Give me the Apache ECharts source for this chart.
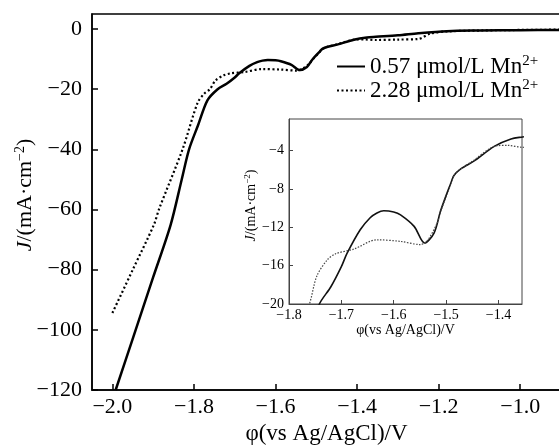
<!DOCTYPE html>
<html>
<head>
<meta charset="utf-8">
<script src="https://cdn.jsdelivr.net/npm/echarts@6/dist/echarts.min.js"></script>
<style>
  html, body { margin: 0; padding: 0; background: #fff; }
  #chart { width: 559px; height: 448px; }
</style>
</head>
<body>
<div id="chart"></div>
<script>
  // 0.57 umol/L Mn2+ (solid)
  var solidX = [-1.992, -1.95, -1.90, -1.857, -1.83, -1.812, -1.79, -1.767, -1.742, -1.72, -1.70, -1.689, -1.664, -1.645, -1.632, -1.619, -1.60, -1.587, -1.561, -1.541, -1.523, -1.510, -1.491, -1.485, -1.472, -1.447, -1.408, -1.376, -1.354, -1.30, -1.25, -1.18, -1.10, -1.0, -0.9]
  var solidJ = [-120, -102.9, -82.5, -65, -50, -40, -32, -23.7, -20, -18.2, -16.1, -14.7, -12.25, -11.0, -10.5, -10.27, -10.4, -10.7, -11.9, -13.64, -12.6, -10.2, -7.4, -6.6, -5.9, -5.1, -3.55, -2.78, -2.57, -2.1, -1.4, -0.7, -0.5, -0.4, -0.3]
  // 2.28 umol/L Mn2+ (dotted)
  var dotX = [-2.0, -1.95, -1.898, -1.886, -1.828, -1.791, -1.775, -1.761, -1.747, -1.727, -1.711, -1.676, -1.632, -1.587, -1.549, -1.536, -1.517, -1.510, -1.491, -1.485, -1.472, -1.447, -1.42, -1.402, -1.383, -1.354, -1.30, -1.25, -1.22, -1.18, -1.10, -1.0, -0.9]
  var dotJ = [-94.4, -80, -65, -60, -40, -24.5, -21.5, -20, -17.1, -15.4, -14.76, -14.27, -13.3, -13.47, -13.8, -13.4, -11.55, -10.3, -7.5, -6.6, -5.9, -5.0, -3.9, -3.48, -3.45, -3.65, -3.5, -3.3, -1.5, -0.8, -0.5, -0.3, -0.2]

  var mainXTicks = [-2.0, -1.8, -1.6, -1.4, -1.2, -1.0]
  var mainYTicks = [0, -20, -40, -60, -80, -100, -120]
  var insetXTicks = [-1.8, -1.7, -1.6, -1.5, -1.4]
  var insetYTicks = [-4, -8, -12, -16, -20]
  var seriesNames = ['0.57 μmol/L Mn', '2.28 μmol/L Mn']

  function pairs(xs, ys) {
    return xs.map(function (x, i) { return [x, ys[i]] })
  }
  function minus(v, digits) {
    var s = digits != null ? v.toFixed(digits) : String(v)
    return s.replace('-', '\u2212')
  }

  var FONT = "'Liberation Serif', 'Times New Roman', serif"
  var myChart = echarts.init(document.getElementById('chart'))

  var option = {
    animation: false,
    textStyle: { fontFamily: FONT, color: '#000' },
    legend: {
      orient: 'vertical',
      left: 331,
      top: 49,
      itemWidth: 28,
      itemHeight: 10,
      itemGap: 0,
      data: seriesNames,
      itemStyle: { opacity: 0 },
      formatter: function (name) { return '{t|' + name + '}{s|2+}' },
      textStyle: {
        fontFamily: FONT,
        color: '#000',
        rich: {
          t: { fontSize: 23, fontFamily: FONT, lineHeight: 22 },
          s: { fontSize: 15, fontFamily: FONT, padding: [0, 0, 10, 0] }
        }
      }
    },
    grid: [
      { left: 92, top: 14, right: -2, bottom: 58, outerBoundsMode: 'none', show: true, borderColor: '#000', borderWidth: 1.5 },
      { left: 289, top: 119, width: 233, height: 185, outerBoundsMode: 'none', show: true, borderColor: '#444', borderWidth: 1, backgroundColor: '#fff', z: 5 }
    ],
    xAxis: [{
      gridIndex: 0,
      type: 'value',
      min: -2.05,
      max: -0.9,
      splitLine: { show: false },
      axisLine: { onZero: false, lineStyle: { color: '#000', width: 1.5 } },
      axisTick: { inside: true, length: 6, customValues: mainXTicks, lineStyle: { color: '#000', width: 1.5 } },
      axisLabel: { customValues: mainXTicks, fontSize: 22, color: '#000', fontFamily: FONT, margin: 6,
        formatter: function (v) { return minus(v, 1) } },
      name: 'φ(vs Ag/AgCl)/V',
      nameLocation: 'middle',
      nameGap: 18,
      nameTextStyle: { fontSize: 23, fontFamily: FONT, color: '#000' }
    }, {
      gridIndex: 1,
      type: 'value',
      min: -1.8,
      max: -1.355,
      splitLine: { show: false },
      axisLine: { onZero: false, lineStyle: { color: '#444', width: 1 } },
      axisTick: { inside: true, length: 4, customValues: insetXTicks, lineStyle: { color: '#444' } },
      axisLabel: { customValues: insetXTicks, fontSize: 14, color: '#000', fontFamily: FONT, margin: 4,
        formatter: function (v) { return minus(v, 1) } },
      name: 'φ(vs Ag/AgCl)/V',
      nameLocation: 'middle',
      nameGap: 19,
      nameTextStyle: { fontSize: 14, fontFamily: FONT, color: '#000' },
      z: 6
    }],
    yAxis: [{
      gridIndex: 0,
      type: 'value',
      min: -120,
      max: 5,
      splitLine: { show: false },
      axisLine: { onZero: false, lineStyle: { color: '#000', width: 1.5 } },
      axisTick: { inside: true, length: 6, customValues: mainYTicks, lineStyle: { color: '#000', width: 1.5 } },
      axisLabel: { customValues: mainYTicks, fontSize: 22, color: '#000', fontFamily: FONT, margin: 10,
        formatter: function (v) { return minus(v) } },
      name: '{i|J}/(mA·cm{s|\u22122})',
      nameLocation: 'middle',
      nameMoveOverlap: false,
      nameGap: 55,
      nameTextStyle: {
        fontSize: 22, fontFamily: FONT, color: '#000',
        padding: [0, 0, 0, 14],
        rich: {
          i: { fontSize: 22, fontFamily: FONT, fontStyle: 'italic' },
          s: { fontSize: 14, fontFamily: FONT, padding: [0, 0, 10, 0] }
        }
      }
    }, {
      gridIndex: 1,
      type: 'value',
      min: -20,
      max: -0.7,
      splitLine: { show: false },
      axisLine: { onZero: false, lineStyle: { color: '#444', width: 1 } },
      axisTick: { inside: true, length: 4, customValues: insetYTicks, lineStyle: { color: '#444' } },
      axisLabel: { customValues: insetYTicks, fontSize: 14, color: '#000', fontFamily: FONT, margin: 5,
        formatter: function (v) { return minus(v) } },
      name: '{i|J}/(mA·cm{s|\u22122})',
      nameLocation: 'middle',
      nameGap: 30,
      nameTextStyle: {
        fontSize: 14, fontFamily: FONT, color: '#000',
        padding: [0, 0, 0, 12],
        rich: {
          i: { fontSize: 14, fontFamily: FONT, fontStyle: 'italic' },
          s: { fontSize: 9, fontFamily: FONT, padding: [0, 0, 7, 0] }
        }
      },
      z: 6
    }],
    series: [{
      name: seriesNames[0],
      type: 'line',
      xAxisIndex: 0, yAxisIndex: 0,
      showSymbol: false, symbol: 'none',
      smooth: 0.3,
      itemStyle: { color: '#000' },
      lineStyle: { color: '#000', width: 2.5, type: 'solid' },
      data: pairs(solidX, solidJ)
    }, {
      name: seriesNames[1],
      type: 'line',
      xAxisIndex: 0, yAxisIndex: 0,
      showSymbol: false, symbol: 'none',
      smooth: 0.3,
      itemStyle: { color: '#000' },
      lineStyle: { color: '#000', width: 2.2, type: [2, 2.5] },
      data: pairs(dotX, dotJ)
    }, {
      name: 'inset-solid',
      type: 'line',
      xAxisIndex: 1, yAxisIndex: 1,
      showSymbol: false, symbol: 'none',
      smooth: 0.3,
      z: 7,
      lineStyle: { color: '#111', width: 1.6 },
      data: pairs(solidX, solidJ)
    }, {
      name: 'inset-dot',
      type: 'line',
      xAxisIndex: 1, yAxisIndex: 1,
      showSymbol: false, symbol: 'none',
      smooth: 0.3,
      z: 7,
      lineStyle: { color: '#444', width: 1.2, type: [1.5, 1.5] },
      data: pairs(dotX, dotJ)
    }]
  }
  myChart.setOption(option)
</script>
</body>
</html>
